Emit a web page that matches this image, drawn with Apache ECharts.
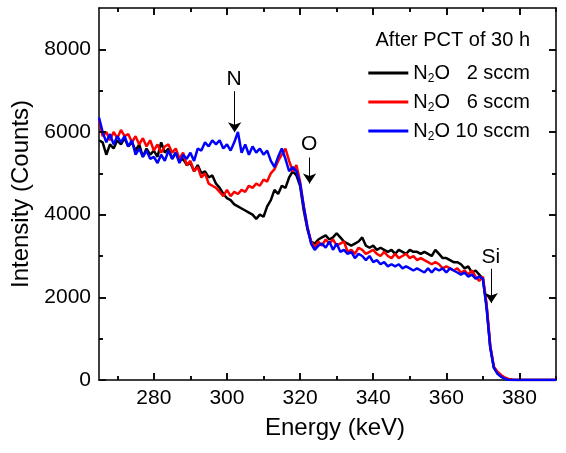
<!DOCTYPE html>
<html>
<head>
<meta charset="utf-8">
<script src="https://cdn.jsdelivr.net/npm/echarts@6/dist/echarts.min.js"></script>
<style>
html,body{margin:0;padding:0;background:#fff;}
#chart{width:566px;height:453px;}
</style>
</head>
<body>
<div id="chart"></div>
<script>
// ---- data ----
const energies = [
265,266,267,268,269,270,271,272,273,274,
275,276,277,278,279,280,281,282,283,284,
285,286,287,288,289,290,291,292,293,294,
295,296,297,298,299,300,301,302,303,304,
305,306,307,308,309,310,311,312,313,314,
315,316,317,318,319,320,321,322,323,324,
325,326,327,328,329,330,331,332,333,334,
335,336,337,338,339,340,341,342,343,344,
345,346,347,348,349,350,351,352,353,354,
355,356,357,358,359,360,361,362,363,364,
365,366,367,368,369,370,371,372,373,374,
375,376,377,378,379,380,381,382,383,384,
385,386,387,388,389,390
];
const black2 = [
5800,5750,5450,5700,5600,5800,5700,5850,5650,5750,
5550,5700,5400,5600,5450,5550,5400,5750,5500,5600,
5350,5500,5300,5350,5200,5250,5050,5200,5000,5050,
4900,4950,4750,4650,4500,4400,4350,4250,4200,4150,
4100,4050,4000,3900,4000,3950,4200,4350,4600,4500,
4700,4650,4900,5050,4950,4700,4100,3650,3350,3300,
3400,3450,3500,3400,3450,3550,3450,3350,3300,3250,
3300,3350,3450,3250,3200,3250,3150,3200,3150,3100,
3150,3050,3150,3100,3050,3150,3100,3100,3050,3100,
3050,3000,3150,3050,2950,2950,2900,2850,2850,2800,
2700,2750,2600,2650,2550,2450,1800,800,300,160,
80,30,10,0,0,0,0,0,0,0,
0,0,0,0,0,0
];
const red6 = [
6300,5900,6000,5800,6000,5850,6050,5900,5950,5750,
5900,5700,5850,5650,5800,5550,5700,5500,5650,5700,
5500,5600,5350,5500,5200,5300,5050,5150,4900,5000,
4750,4700,4650,4550,4450,4600,4450,4550,4500,4600,
4550,4700,4650,4750,4700,4850,4800,5000,5100,5300,
5450,5600,5300,5050,5200,4800,4200,3700,3350,3200,
3350,3250,3400,3300,3400,3250,3300,3350,3100,3150,
3050,3200,3150,3050,3100,3150,3050,3000,3100,3000,
2950,3050,2950,3000,3050,2950,3000,2900,2950,2900,
2850,2800,2850,2800,2700,2750,2700,2650,2700,2600,
2650,2550,2650,2500,2400,2500,1850,850,320,200,
120,60,25,10,0,0,0,0,0,0,
0,0,0,0,0,0
];
const blue10 = [
6350,6000,5750,5950,5700,5900,5750,5900,5650,5800,
5450,5600,5400,5550,5350,5400,5250,5450,5300,5550,
5350,5500,5250,5450,5350,5500,5300,5600,5550,5750,
5650,5800,5700,5800,5600,5700,5550,5750,6000,5500,
5700,5450,5650,5500,5600,5450,5550,5300,5150,5400,
5600,5350,5050,5150,5050,4750,4200,3700,3300,3150,
3250,3300,3200,3350,3150,3300,3100,3150,3050,3100,
2950,3050,3000,2900,3000,2850,2900,2800,2850,2750,
2800,2750,2800,2700,2750,2700,2650,2700,2650,2600,
2700,2600,2700,2650,2700,2600,2700,2650,2600,2550,
2600,2500,2550,2450,2500,2450,1750,800,300,150,
80,30,0,0,0,0,0,0,0,0,
0,0,0,0,0,0
];
const seriesNames = ['N2O 2 sccm', 'N2O 6 sccm', 'N2O 10 sccm'];
const legendSuffix = ['   2 sccm', '   6 sccm', ' 10 sccm'];
const seriesColors = ['#000000', '#ff0000', '#0000ff'];
const xTickGrid = energies;
const yTickGrid = [0,1000,2000,3000,4000,5000,6000,7000,8000,9000];
const xMajorTicks = [280, 300, 320, 340, 360, 380];
const xMinorTicks = [270, 290, 310, 330, 350, 370];
const yMajorTicks = [2000, 4000, 6000, 8000];
const yMinorTicks = [1000, 3000, 5000, 7000];
const annoText = ['N', 'O', 'Si'];
const annoX = [302.1, 322.6, 372.3];
const annoTextY = [7257, 5697, 2958];
const arrowStartY = [6990, 5382, 2691];
const arrowEndY = [5995, 4752, 1860];
const legendTitle = 'After PCT of 30 h';

// ---- chart ----
const FONT = '"Liberation Sans", Arial, sans-serif';
const X_MIN = 265, X_MAX = 390, Y_MIN = 0, Y_MAX = 9000;
const GRID = {left: 99, right: 10, top: 8, bottom: 73};
const W = 566, H = 453;
const xPerPx = (X_MAX - X_MIN) / (W - GRID.left - GRID.right);
const yPerPx = (Y_MAX - Y_MIN) / (H - GRID.top - GRID.bottom);
const chart = echarts.init(document.getElementById('chart'));
const pair = (ys) => energies.map((e, i) => [e, ys[i]]);
const allY = [black2, red6, blue10];

const isMajorX = v => Number(v) % 20 === 0;
const isMinorX = v => Number(v) % 10 === 0 && Number(v) % 20 !== 0;
const isMajorY = v => Number(v) % 2000 === 0 && Number(v) < 9000;
const isMinorY = v => Number(v) % 1000 === 0 && Number(v) % 2000 !== 0 && Number(v) < 9000;

function catAx(dir, pos, grid, tickFn, len, showLabel, showLine, name) {
  const ax = {
    gridIndex: 0, type: 'category', position: pos, data: grid.map(String), boundaryGap: false,
    name: name || '', nameLocation: 'middle',
    axisLine: {show: showLine, onZero: false, lineStyle: {color: '#000', width: 1.5}},
    axisTick: {show: true, inside: true, length: len, interval: (i, v) => tickFn(v),
      lineStyle: {color: '#000', width: 1.5}},
    axisLabel: {show: showLabel, interval: (i, v) => tickFn(v), margin: 8,
      fontFamily: FONT, fontSize: 21, color: '#000'},
    splitLine: {show: false}, axisPointer: {show: false}
  };
  if (dir === 'x') {
    ax.nameGap = 36;
    ax.nameTextStyle = {fontFamily: FONT, fontSize: 24, color: '#000', padding: [0, 0, 0, 15]};
  } else {
    ax.nameGap = 66;
    ax.nameTextStyle = {fontFamily: FONT, fontSize: 24, color: '#000'};
  }
  return ax;
}

// frame ticks (inside, on all four sides) expressed in data coordinates
function frameTicks() {
  const out = [];
  const add = (a, b) => out.push([{coord: a}, {coord: b}]);
  [[xMajorTicks, 7], [xMinorTicks, 4]].forEach(([ticks, len]) => ticks.forEach(x => {
    add([x, Y_MIN], [x, Y_MIN + len * yPerPx]);
    add([x, Y_MAX], [x, Y_MAX - len * yPerPx]);
  }));
  [[yMajorTicks, 7], [yMinorTicks, 4]].forEach(([ticks, len]) => ticks.forEach(y => {
    add([X_MIN, y], [X_MIN + len * xPerPx, y]);
    add([X_MAX, y], [X_MAX - len * xPerPx, y]);
  }));
  return out;
}

const series = seriesNames.map((n, i) => ({
  name: n, type: 'line', xAxisIndex: 0, yAxisIndex: 0,
  data: pair(allY[i]), showSymbol: false, symbol: 'none',
  lineStyle: {color: seriesColors[i], width: 2.5}, itemStyle: {color: seriesColors[i]},
  z: 2 + i, animation: false
}));

series.push({
  name: 'annotations', type: 'scatter', xAxisIndex: 0, yAxisIndex: 0,
  symbolSize: 1, itemStyle: {color: 'rgba(0,0,0,0)', opacity: 1}, silent: true, animation: false,
  data: annoText.map((t, i) => [annoX[i], annoTextY[i], t]),
  label: {show: true, position: [0, 0], align: 'center', verticalAlign: 'middle',
    formatter: p => p.value[2], fontFamily: FONT, fontSize: 21, color: '#000', opacity: 1},
  markLine: {
    silent: true, animation: false, symbol: ['none', 'arrow'], symbolSize: 10,
    label: {show: false},
    lineStyle: {color: '#000', width: 1, type: 'solid', opacity: 1},
    data: annoX.map((x, i) => [{coord: [x, arrowStartY[i]]}, {coord: [x, arrowEndY[i]]}])
  }
});

series.push({
  name: 'frameTicks', type: 'scatter', xAxisIndex: 0, yAxisIndex: 0,
  symbolSize: 0, itemStyle: {color: 'rgba(0,0,0,0)', opacity: 1}, silent: true, animation: false,
  data: [[X_MIN, Y_MIN]],
  markLine: {
    silent: true, animation: false, symbol: ['none', 'none'],
    label: {show: false},
    lineStyle: {color: '#000', width: 1.5, type: 'solid', opacity: 1},
    data: frameTicks()
  }
});

const option = {
  animation: false,
  grid: GRID,
  title: {text: legendTitle, right: 31, top: 25,
    textStyle: {fontFamily: FONT, fontSize: 20, fontWeight: 'normal', color: '#000'}},
  legend: {
    data: seriesNames, orient: 'vertical', right: 31, top: 58,
    icon: 'rect', itemWidth: 40, itemHeight: 3, itemGap: 7,
    formatter: (name) => {
      const i = seriesNames.indexOf(name);
      return '{n|N}{s|2}{n|O' + legendSuffix[i] + '}';
    },
    textStyle: {
      fontFamily: FONT, fontSize: 20, color: '#000',
      rich: {
        n: {fontFamily: FONT, fontSize: 20, color: '#000', lineHeight: 24},
        s: {fontFamily: FONT, fontSize: 12, color: '#000', lineHeight: 24, verticalAlign: 'bottom'}
      }
    }
  },
  xAxis: [
    {gridIndex: 0, type: 'value', min: X_MIN, max: X_MAX, show: false},
    catAx('x', 'bottom', xTickGrid, isMajorX, 7, true, true, 'Energy (keV)'),
    catAx('x', 'bottom', xTickGrid, isMinorX, 4, false, false),
    catAx('x', 'top', xTickGrid, isMajorX, 7, false, true),
    catAx('x', 'top', xTickGrid, isMinorX, 4, false, false)
  ],
  yAxis: [
    {gridIndex: 0, type: 'value', min: Y_MIN, max: Y_MAX, show: false},
    catAx('y', 'left', yTickGrid, isMajorY, 7, true, true, 'Intensity (Counts)'),
    catAx('y', 'left', yTickGrid, isMinorY, 4, false, false),
    catAx('y', 'right', yTickGrid, isMajorY, 7, false, true),
    catAx('y', 'right', yTickGrid, isMinorY, 4, false, false)
  ],
  series: series
};
chart.setOption(option);
</script>
</body>
</html>
